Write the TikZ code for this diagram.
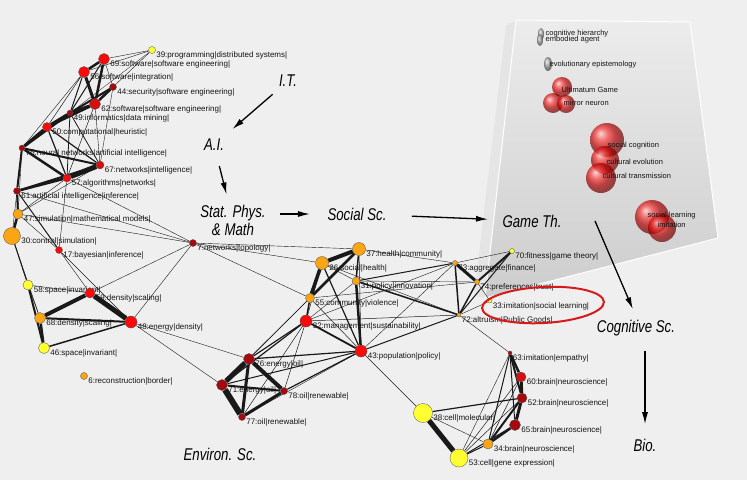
\documentclass[tikz,border=0pt]{standalone}
\usepackage{fontspec}
\setmainfont{Liberation Sans}
\newfontfamily\areaFont[FakeStretch=0.78]{Liberation Sans}
\usepackage{xcolor}
\usepackage{tikz}
\usetikzlibrary{calc,arrows.meta,positioning}
\definecolor{bgGray}{RGB}{239,239,239}
\definecolor{panelTop}{RGB}{236,236,236}
\definecolor{panelBottom}{RGB}{205,205,205}
\definecolor{nodeRed}{RGB}{250,10,10}
\definecolor{nodeMid}{RGB}{215,15,15}
\definecolor{nodeDark}{RGB}{165,10,15}
\definecolor{nodeOrange}{RGB}{250,165,20}
\definecolor{nodeYellow}{RGB}{255,255,50}
\definecolor{ringRed}{RGB}{215,25,25}
\definecolor{lblText}{RGB}{20,20,20}
\pgfdeclarelayer{back}
\pgfdeclarelayer{edges}
\pgfsetlayers{back,edges,main}

\begin{document}
\begin{tikzpicture}[x=1pt,y=-1pt,
  vtx/.style={circle,draw=black!70,line width=0.3pt,inner sep=0pt},
  lbl/.style={font=\fontsize{8}{9}\selectfont,text=lblText,inner sep=0.5pt,anchor=west},
  bubbletext/.style={font=\fontsize{7.5}{8}\selectfont,text=lblText,inner sep=0.5pt,anchor=west},
  area/.style={font=\areaFont\itshape\fontsize{17}{18}\selectfont,text=black,align=center},
  flow/.style={line width=1.3pt,-{Latex[length=12pt,width=6pt]}}
]
\useasboundingbox (0,0) rectangle (747,480);
\begin{pgfonlayer}{back}
\fill[bgGray] (0,0) rectangle (747,480);
\draw[black!6,line width=0.5pt] (0,43) -- (747,43);
% panel with its shadow
\fill[black!10] (506,26) -- (516,20) -- (485,298) -- (474,296) -- cycle;
\shade[top color=panelTop,bottom color=panelBottom,draw=white,line width=1pt]
  (516,20) -- (690,22) -- (718,238) -- (485,298) -- cycle;
\shade[ball color=gray!70,opacity=0.8] (541,34) ellipse (3 and 6);
\shade[ball color=gray!70,opacity=0.8] (540,40) ellipse (3 and 6);
\shade[ball color=gray!70,opacity=0.8] (548,64) ellipse (4 and 7);
\foreach \x/\y/\r in {562/87/10,553/103/10,566/104/9,607/140/17,605/160/14,601/178/15,652/217/17,662/228/14}
{
\shade[ball color=red,opacity=0.7] (\x,\y) circle (\r);
}
\end{pgfonlayer}

% panel topics
\node[bubbletext] (b1) at (545,34) {cognitive hierarchy};
\node[bubbletext] (b2) at (545,40) {embodied agent};
\node[bubbletext] (b3) at (549,65) {evolutionary epistemology};
\node[bubbletext] (b4) at (561,90) {Ultimatum Game};
\node[bubbletext] (b5) at (563,103) {mirror neuron};
\node[bubbletext] (b6) at (607,146) {social cognition};
\node[bubbletext] (b7) at (606,162) {cultural evolution};
\node[bubbletext] (b8) at (602,176) {cultural transmission};
\node[bubbletext] (b9) at (647,216) {social learning};
\node[bubbletext] (b10) at (657,225) {imitation};

% keyword nodes
\foreach \n/\x/\y/\d/\c/\t in {
39/152/50/7/nodeYellow/39:programming|distributed systems|,
69/104/59/11/nodeRed/69:software|software engineering|,
56/84/72/11/nodeRed/56:software|integration|,
44/113/87/7/nodeDark/44:security|software engineering|,
62/95/104/11/nodeMid/62:software|software engineering|,
49/70/113/6/nodeDark/49:informatics|data mining|,
50/47/127/9/nodeRed/50:computational|heuristic|,
75/22/148/6/nodeDark/75:neural networks|artificial intelligence|,
67/100/165/8/nodeMid/67:networks|intelligence|,
57/67/178/8/nodeRed/57:algorithms|networks|,
61/17/191/7/nodeDark/61:artificial intelligence|inference|,
47/18/214/10/nodeOrange/47:simulation|mathematical models|,
30/12/236/17/nodeOrange/30:control|simulation|,
17/59/250/7/nodeRed/17:bayesian|inference|,
7/193/243/7/nodeDark/7:networks|topology|,
58/28/285/10/nodeYellow/58:space|invariant|,
59/90/293/10/nodeRed/59:density|scaling|,
68/40/318/11/nodeOrange/68:density|scaling|,
48/131/322/12/nodeRed/48:energy|density|,
46/44/348/11/nodeYellow/46:space|invariant|,
6/84/376/7/nodeOrange/6:reconstruction|border|,
76/249/359/11/nodeDark/76:energy|oil|,
71/222/385/11/nodeDark/71:energy|oil|,
78/284/391/7/nodeDark/78:oil|renewable|,
77/242/417/7/nodeDark/77:oil|renewable|,
37/359/249/13/nodeOrange/37:health|community|,
26/322/263/13/nodeOrange/26:social|health|,
31/356/281/8/nodeOrange/31:policy|innovation|,
55/310/298/9/nodeOrange/55:community|violence|,
32/306/321/12/nodeRed/32:management|sustainability|,
43/361/351/12/nodeRed/43:population|policy|,
73/455/263/5/nodeOrange/73:aggregate|finance|,
74/477/282/5/nodeOrange/74:preferences|trust|,
72/459/315/4/nodeOrange/72:altruism|Public Goods|,
70/512/251/5/nodeYellow/70:fitness|game theory|,
33/490/301/4/nodeYellow/33:imitation|social learning|,
63/510/353/4/nodeDark/63:imitation|empathy|,
60/521/377/10/nodeMid/60:brain|neuroscience|,
52/522/398/10/nodeDark/52:brain|neuroscience|,
65/515/425/11/nodeDark/65:brain|neuroscience|,
34/488/444/10/nodeOrange/34:brain|neuroscience|,
38/423/413/19/nodeYellow/38:cell|molecular|,
53/459/458/18/nodeYellow/53:cell|gene expression|}
{
\node[vtx,fill=\c,minimum size=\d pt] (n\n) at (\x,\y) {};
\node[lbl] (t\n) at ($(n\n.east)+(0,5.5)$) {\t};
}

% co-occurrence ties
\begin{pgfonlayer}{edges}
\foreach \a/\b/\w in {
39/69/0.4,39/56/0.4,39/62/0.4,39/49/0.3,69/56/2.5,69/62/2.5,69/49/1,69/44/0.4,
56/62/3,56/49/1,56/50/0.5,56/75/0.4,62/44/2.5,62/49/3,62/50/2.5,44/49/2,44/50/1,
49/50/3,50/75/3,49/75/2.5,75/61/2,75/57/2.5,75/67/2,50/57/1.2,50/67/1.2,49/57/0.8,
49/67/0.8,62/67/0.4,44/67/0.4,62/57/0.5,57/67/5,61/57/2.5,61/67/2,61/47/2,47/30/2.5,
75/47/0.4,61/30/0.4,57/47/0.4,67/47/0.4,30/58/1,58/46/2,58/68/0.5,68/46/2.5,30/68/0.4,
68/59/4,59/48/5,68/48/2,46/48/1.5,58/59/0.4,61/17/1,47/17/0.4,57/17/0.4,17/59/0.4,
17/48/0.4,61/7/0.4,57/7/0.4,47/7/0.4,59/7/0.4,48/7/0.4,7/37/0.4,7/26/0.4,7/55/0.4,
48/76/0.4,48/71/0.4,
76/71/5,71/77/6,76/77/3,76/78/4,77/78/3,71/78/2,32/76/1.2,32/71/1.2,32/78/0.5,
32/77/0.5,43/76/1.2,43/71/1,43/78/1.2,55/76/0.4,55/71/0.4,43/77/0.4,
37/26/4,26/55/3.5,37/55/2.5,37/31/1.5,26/31/0.4,26/43/1.2,26/32/0.5,55/32/1.5,
31/43/2.5,32/43/1.8,55/43/0.5,31/32/0.4,37/43/0.5,26/72/0.4,31/72/1.5,31/73/1,
32/73/0.4,32/72/0.5,43/72/1,43/73/0.4,73/72/1.5,74/72/1.5,73/74/3,70/72/1,70/73/0.4,
70/74/2,33/72/0.4,33/74/0.4,72/63/0.4,37/73/0.4,55/74/0.4,43/38/0.4,31/74/0.4,
63/60/2.5,63/52/2,63/65/1,63/34/1,60/52/3,52/65/3,65/34/2.5,52/34/2,60/34/0.5,
38/53/5,38/52/1.2,38/34/0.4,53/34/1,53/65/1,53/52/0.5,53/60/0.5,53/63/0.4}
{
\draw[black!90,line width=\w pt] (n\a) -- (n\b);
}
\end{pgfonlayer}

% fields
\node[area] (it) at (288,81) {I.T.};
\node[area] (ai) at (214,145) {A.I.};
\node[area] (stat) at (233,220) {Stat. Phys.\\\& Math};
\node[area] (soc) at (357,214) {Social Sc.};
\node[area] (game) at (532,221) {Game Th.};
\node[area] (cog) at (636,328) {Cognitive Sc.};
\node[area] (bio) at (645,445) {Bio.};
\node[area] (env) at (220,454) {Environ. Sc.};

\draw[flow,shorten <=6pt,shorten >=10pt] (it) -- (ai);
\draw[flow,shorten <=12pt,shorten >=7pt] (ai) -- (stat);
\draw[flow,shorten <=11pt,shorten >=14pt] (stat.east |- soc) -- (soc);
\draw[flow,shorten <=22pt,shorten >=11pt] (soc) -- (game);
\draw[flow,shorten >=8pt] ([xshift=30pt]game.east) -- (cog.north);
\draw[flow,shorten <=12pt,shorten >=11pt] (bio.north |- cog.south) -- (bio.north);

% highlighted keyword
\draw[ringRed,line width=2pt,rotate around={3:(543,305)}] (543,305) ellipse (61 and 18);
\end{tikzpicture}
\end{document}
